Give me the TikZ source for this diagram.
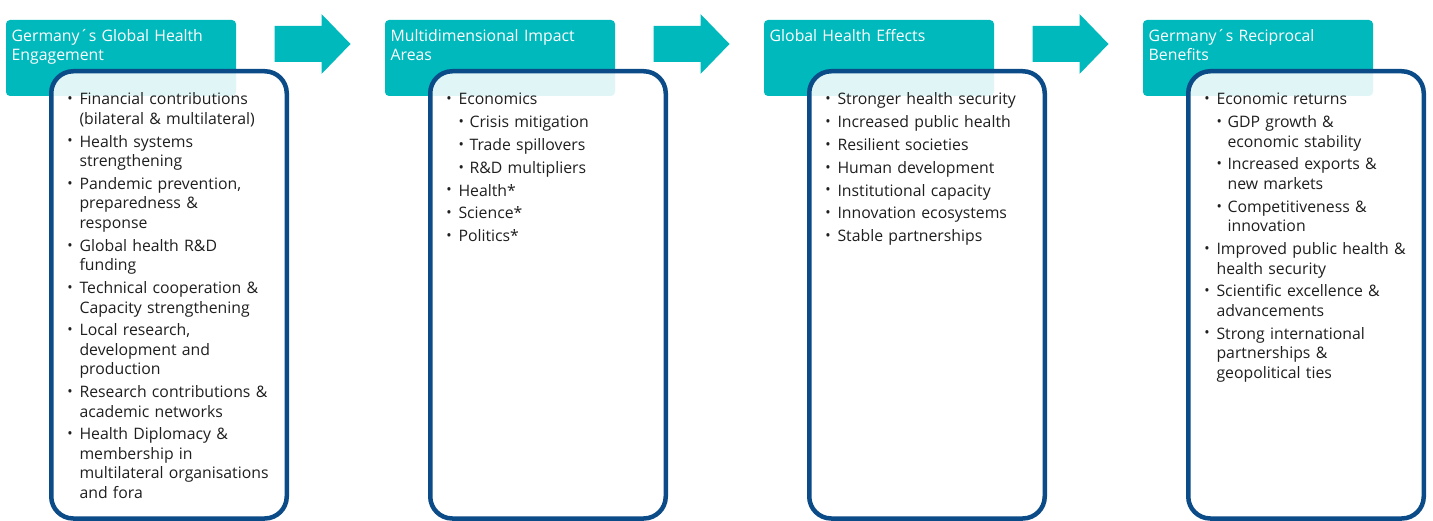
\documentclass[tikz,border=0pt]{standalone}
\usepackage{fontspec}
\setmainfont{Open Sans}
\usetikzlibrary{positioning}

\definecolor{headteal}{HTML}{00B9BD}
\definecolor{framenavy}{HTML}{0B4B87}
\definecolor{bodytext}{HTML}{1F1F1F}

\tikzset{
  headbox/.style  = {fill=headteal, rounded corners=4pt, anchor=north west,
                     minimum width=230pt, minimum height=76pt,
                     inner sep=0pt, outer sep=0pt},
  headtext/.style = {anchor=north west, inner sep=0pt, text=white,
                     text width=224pt, align=left,
                     font=\fontsize{15.8pt}{19.5pt}\selectfont},
  listbox/.style  = {draw=framenavy, line width=4.5pt, rounded corners=22pt,
                     fill=white, fill opacity=0.88, anchor=north west,
                     minimum width=235.5pt, minimum height=447.25pt,
                     inner sep=0pt, outer sep=0pt},
  listtext/.style = {anchor=north west, inner sep=0pt, text=bodytext,
                     text width=215pt, align=left,
                     font=\fontsize{15.8pt}{19.5pt}\selectfont\setlength{\parskip}{3.3pt}},
  flowarrow/.style = {fill=headteal},
}
\newcommand{\nl}{\hfil\break}
\newcommand{\bul}{\raisebox{1.2pt}{\scalebox{0.9}{•}}}
\newcommand{\itm}[1]{\par\hangindent=12.1pt\hangafter=1\noindent\strut
  \makebox[12.1pt][l]{\bul}#1\par}
\newcommand{\subitm}[1]{\par\hangindent=23.1pt\hangafter=1\noindent\strut
  \hspace*{12.1pt}\makebox[11pt][l]{\bul}#1\par}

\begin{document}
\begin{tikzpicture}[x=1pt, y=-1pt]
\useasboundingbox (0,0) rectangle (1433,521);

% ========== 1: Engagement ==========
\begin{scope}
  \node[headbox] (h1) at (6,20) {};
  \node[headtext] (t1) at ([xshift=5.5pt,yshift=-9pt]h1.north west)
    {Germany´s Global Health\nl Engagement};
  \node[listbox] (b1) at ([xshift=45.25pt,yshift=-51.25pt]h1.north west) {};
  \node[listtext] (l1) at ([xshift=16pt,yshift=-10.6pt]b1.north west) {%
    \itm{Financial contributions\nl (bilateral \& multilateral)}
    \itm{Health systems\nl strengthening}
    \itm{Pandemic prevention,\nl preparedness \&\nl response}
    \itm{Global health R\&D\nl funding}
    \itm{Technical cooperation \&\nl Capacity strengthening}
    \itm{Local research,\nl development and\nl production}
    \itm{Research contributions \&\nl academic networks}
    \itm{Health Diplomacy \&\nl membership in\nl multilateral organisations\nl and fora}};

  \coordinate (a1) at ([xshift=38.5pt,yshift=14pt]h1.east);
  \fill[flowarrow] (a1) ++(0,-18) -- ++(47,0) -- ++(0,-12) -- ++(29,30)
    -- ++(-29,30) -- ++(0,-12) -- ++(-47,0) -- cycle;
\end{scope}

% ========== 2: Impact areas ==========
\begin{scope}[xshift=379pt]
  \node[headbox] (h2) at (6,20) {};
  \node[headtext] (t2) at ([xshift=5.5pt,yshift=-9pt]h2.north west)
    {Multidimensional Impact\nl Areas};
  \node[listbox] (b2) at ([xshift=45.25pt,yshift=-51.25pt]h2.north west) {};
  \node[listtext] (l2) at ([xshift=16pt,yshift=-10.6pt]b2.north west) {%
    \itm{Economics}
    \subitm{Crisis mitigation}
    \subitm{Trade spillovers}
    \subitm{R\&D multipliers}
    \itm{Health*}
    \itm{Science*}
    \itm{Politics*}};

  \coordinate (a2) at ([xshift=38.5pt,yshift=14pt]h2.east);
  \fill[flowarrow] (a2) ++(0,-18) -- ++(47,0) -- ++(0,-12) -- ++(29,30)
    -- ++(-29,30) -- ++(0,-12) -- ++(-47,0) -- cycle;
\end{scope}

% ========== 3: Effects ==========
\begin{scope}[xshift=758pt]
  \node[headbox] (h3) at (6,20) {};
  \node[headtext] (t3) at ([xshift=5.5pt,yshift=-9pt]h3.north west)
    {Global Health Effects};
  \node[listbox] (b3) at ([xshift=45.25pt,yshift=-51.25pt]h3.north west) {};
  \node[listtext] (l3) at ([xshift=16pt,yshift=-10.6pt]b3.north west) {%
    \itm{Stronger health security}
    \itm{Increased public health}
    \itm{Resilient societies}
    \itm{Human development}
    \itm{Institutional capacity}
    \itm{Innovation ecosystems}
    \itm{Stable partnerships}};

  \coordinate (a3) at ([xshift=38.5pt,yshift=14pt]h3.east);
  \fill[flowarrow] (a3) ++(0,-18) -- ++(47,0) -- ++(0,-12) -- ++(29,30)
    -- ++(-29,30) -- ++(0,-12) -- ++(-47,0) -- cycle;
\end{scope}

% ========== 4: Benefits ==========
\begin{scope}[xshift=1137pt]
  \node[headbox] (h4) at (6,20) {};
  \node[headtext] (t4) at ([xshift=5.5pt,yshift=-9pt]h4.north west)
    {Germany´s Reciprocal\nl Benefits};
  \node[listbox] (b4) at ([xshift=45.25pt,yshift=-51.25pt]h4.north west) {};
  \node[listtext] (l4) at ([xshift=16pt,yshift=-10.6pt]b4.north west) {%
    \itm{Economic returns}
    \subitm{GDP growth \&\nl economic stability}
    \subitm{Increased exports \&\nl new markets}
    \subitm{Competitiveness \&\nl innovation}
    \itm{Improved public health \&\nl health security}
    \itm{Scientific excellence \&\nl advancements}
    \itm{Strong international\nl partnerships \&\nl geopolitical ties}};
\end{scope}

\end{tikzpicture}
\end{document}
